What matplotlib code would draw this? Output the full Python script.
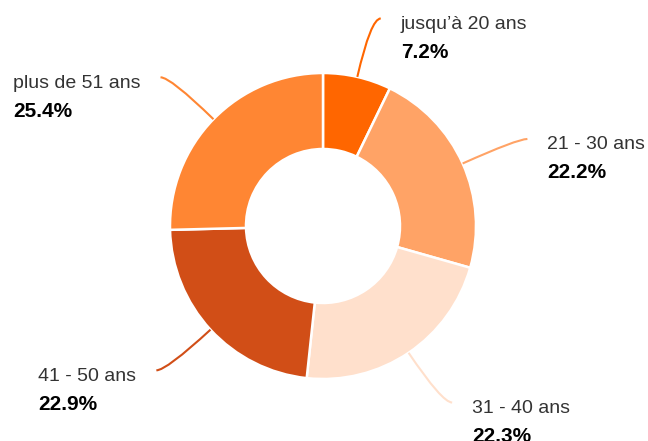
import numpy as np
import matplotlib
matplotlib.use('Agg')
import matplotlib.pyplot as plt
from matplotlib.path import Path
from matplotlib.patches import PathPatch

# age groups and shares (%)
labels = ['jusqu\u2019\u00e0 20 ans', '21 - 30 ans', '31 - 40 ans', '41 - 50 ans', 'plus de 51 ans']
values = [7.2, 22.2, 22.3, 22.9, 25.4]
colors = ['#ff6600', '#ffa366', '#ffe0cc', '#d14e17', '#ff8633']

W, H = 648, 441
cx, cy = 323, H - 226
R = 153
hole = 77

plt.rcParams['font.family'] = ['Liberation Sans', 'DejaVu Sans']

fig = plt.figure(figsize=(W / 100, H / 100), dpi=100)
ax = fig.add_axes([0, 0, 1, 1])

wedges, _ = ax.pie(values, colors=colors, startangle=90, counterclock=False,
                   radius=R, center=(cx, cy), frame=True,
                   wedgeprops=dict(width=R - hole, edgecolor='white', linewidth=1.8))
ax.set_xlim(0, W)
ax.set_ylim(0, H)
ax.set_aspect('auto')
ax.axis('off')

fig.canvas.draw()
rend = fig.canvas.get_renderer()

for w, lab, val, col in zip(wedges, labels, values, colors):
    ang = np.deg2rad((w.theta1 + w.theta2) / 2)
    dx, dy = np.cos(ang), np.sin(ang)
    p0 = (cx + R * dx, cy + R * dy)
    p1 = (cx + (R + 60) * dx, cy + (R + 60) * dy)
    side = 1 if dx >= 0 else -1
    p2 = (p1[0] + side * 10, p1[1])
    path = Path([p0, p1, p2], [Path.MOVETO, Path.CURVE3, Path.CURVE3])
    ax.add_patch(PathPatch(path, facecolor='none', edgecolor=col, lw=1.5))

    ty = p2[1] - 6
    if side > 0:
        tx = p2[0] + 20
        ax.text(tx, ty, lab, fontsize=14, color='#333333', ha='left', va='center')
        ax.text(tx, ty - 28, f'{val}%', fontsize=15, fontweight='bold',
                color='black', ha='left', va='center')
    else:
        t = ax.text(p2[0] - 20, ty, lab, fontsize=14, color='#333333', ha='right', va='center')
        bb = t.get_window_extent(rend)
        left = ax.transData.inverted().transform((bb.x0, bb.y0))[0]
        ax.text(left, ty - 28, f'{val}%', fontsize=15, fontweight='bold',
                color='black', ha='left', va='center')

fig.savefig('out.png', dpi=100)
